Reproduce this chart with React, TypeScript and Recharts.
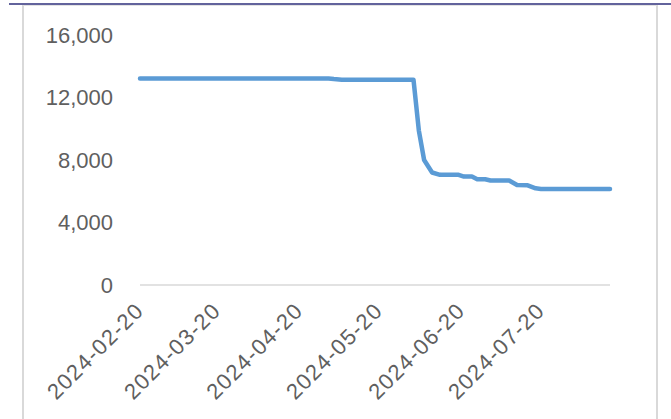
import React from 'react';
import { LineChart, Line, XAxis, YAxis } from 'recharts';

const dates: string[] = [
  '2024-02-20', '2024-05-01', '2024-05-03', '2024-05-06', '2024-06-02',
  '2024-06-04', '2024-06-06', '2024-06-09', '2024-06-12', '2024-06-19',
  '2024-06-21', '2024-06-24', '2024-06-26', '2024-06-29', '2024-07-01',
  '2024-07-08', '2024-07-11', '2024-07-15', '2024-07-18', '2024-07-20',
  '2024-08-15',
];

const values: number[] = [
  13220, 13220, 13180, 13140, 13140,
  9900, 8000, 7200, 7050, 7050,
  6940, 6940, 6770, 6770, 6690,
  6690, 6400, 6380, 6190, 6150,
  6150,
];

const tickLabels: string[] = [
  '2024-02-20', '2024-03-20', '2024-04-20', '2024-05-20', '2024-06-20', '2024-07-20',
];
const endDate = '2024-08-15';
const yTicks: number[] = [0, 4000, 8000, 12000, 16000];

const DAY = 86400000;
const start = Date.parse(dates[0]);
const toDay = (d: string) => (Date.parse(d) - start) / DAY;

const data = dates.map((d, i) => ({ day: toDay(d), date: d, value: values[i] }));
const xTicks = tickLabels.map(toDay);

const FONT = '"Liberation Sans", Arial, sans-serif';
const TEXT = '#5f5f5f';

const DateTick = (props: any) => {
  const { x, y, payload } = props;
  const label = tickLabels[xTicks.indexOf(payload.value)] ?? '';
  return (
    <g transform={`translate(${x + 5},${y + 27})`}>
      <text
        x={0}
        y={0}
        textAnchor="end"
        transform="rotate(-45)"
        fill={TEXT}
        fontSize={22}
        letterSpacing={1.3}
        fontFamily={FONT}
      >
        {label}
      </text>
    </g>
  );
};

export default function App() {
  return (
    <div
      style={{
        position: 'absolute',
        left: 0,
        top: 0,
        width: 671,
        height: 419,
        overflow: 'hidden',
        background: '#fff',
      }}
    >
      {/* top rule and chart frame */}
      <div style={{ position: 'absolute', left: 9, top: 3, width: 662, height: 2, background: '#62639c' }} />
      <div
        style={{
          position: 'absolute',
          left: 22,
          top: 5,
          width: 632,
          height: 440,
          borderLeft: '2px solid #d9d9d9',
          borderRight: '2px solid #d9d9d9',
          borderTop: '1px solid #e3e3e3',
        }}
      />
      <div style={{ position: 'absolute', left: 0, top: 0 }}>
        <LineChart
          width={671}
          height={419}
          data={data}
          margin={{ top: 35, right: 61, bottom: 0, left: 0 }}
        >
          <XAxis
            dataKey="day"
            type="number"
            domain={[0, toDay(endDate)]}
            ticks={xTicks}
            interval={0}
            tickLine={false}
            tickSize={0}
            tickMargin={0}
            axisLine={{ stroke: '#d9d9d9', strokeWidth: 1.5 }}
            tick={<DateTick />}
            height={134}
          />
          <YAxis
            type="number"
            domain={[0, 16000]}
            ticks={yTicks}
            width={140}
            axisLine={false}
            tickLine={false}
            tickSize={0}
            tickMargin={27}
            tickFormatter={(v: number) => v.toLocaleString('en-US')}
            tick={{ fill: TEXT, fontSize: 22, fontFamily: FONT }}
          />
          <Line
            type="linear"
            dataKey="value"
            stroke="#5b9bd5"
            strokeWidth={4.5}
            strokeLinejoin="round"
            strokeLinecap="round"
            dot={false}
            isAnimationActive={false}
          />
        </LineChart>
      </div>
    </div>
  );
}
